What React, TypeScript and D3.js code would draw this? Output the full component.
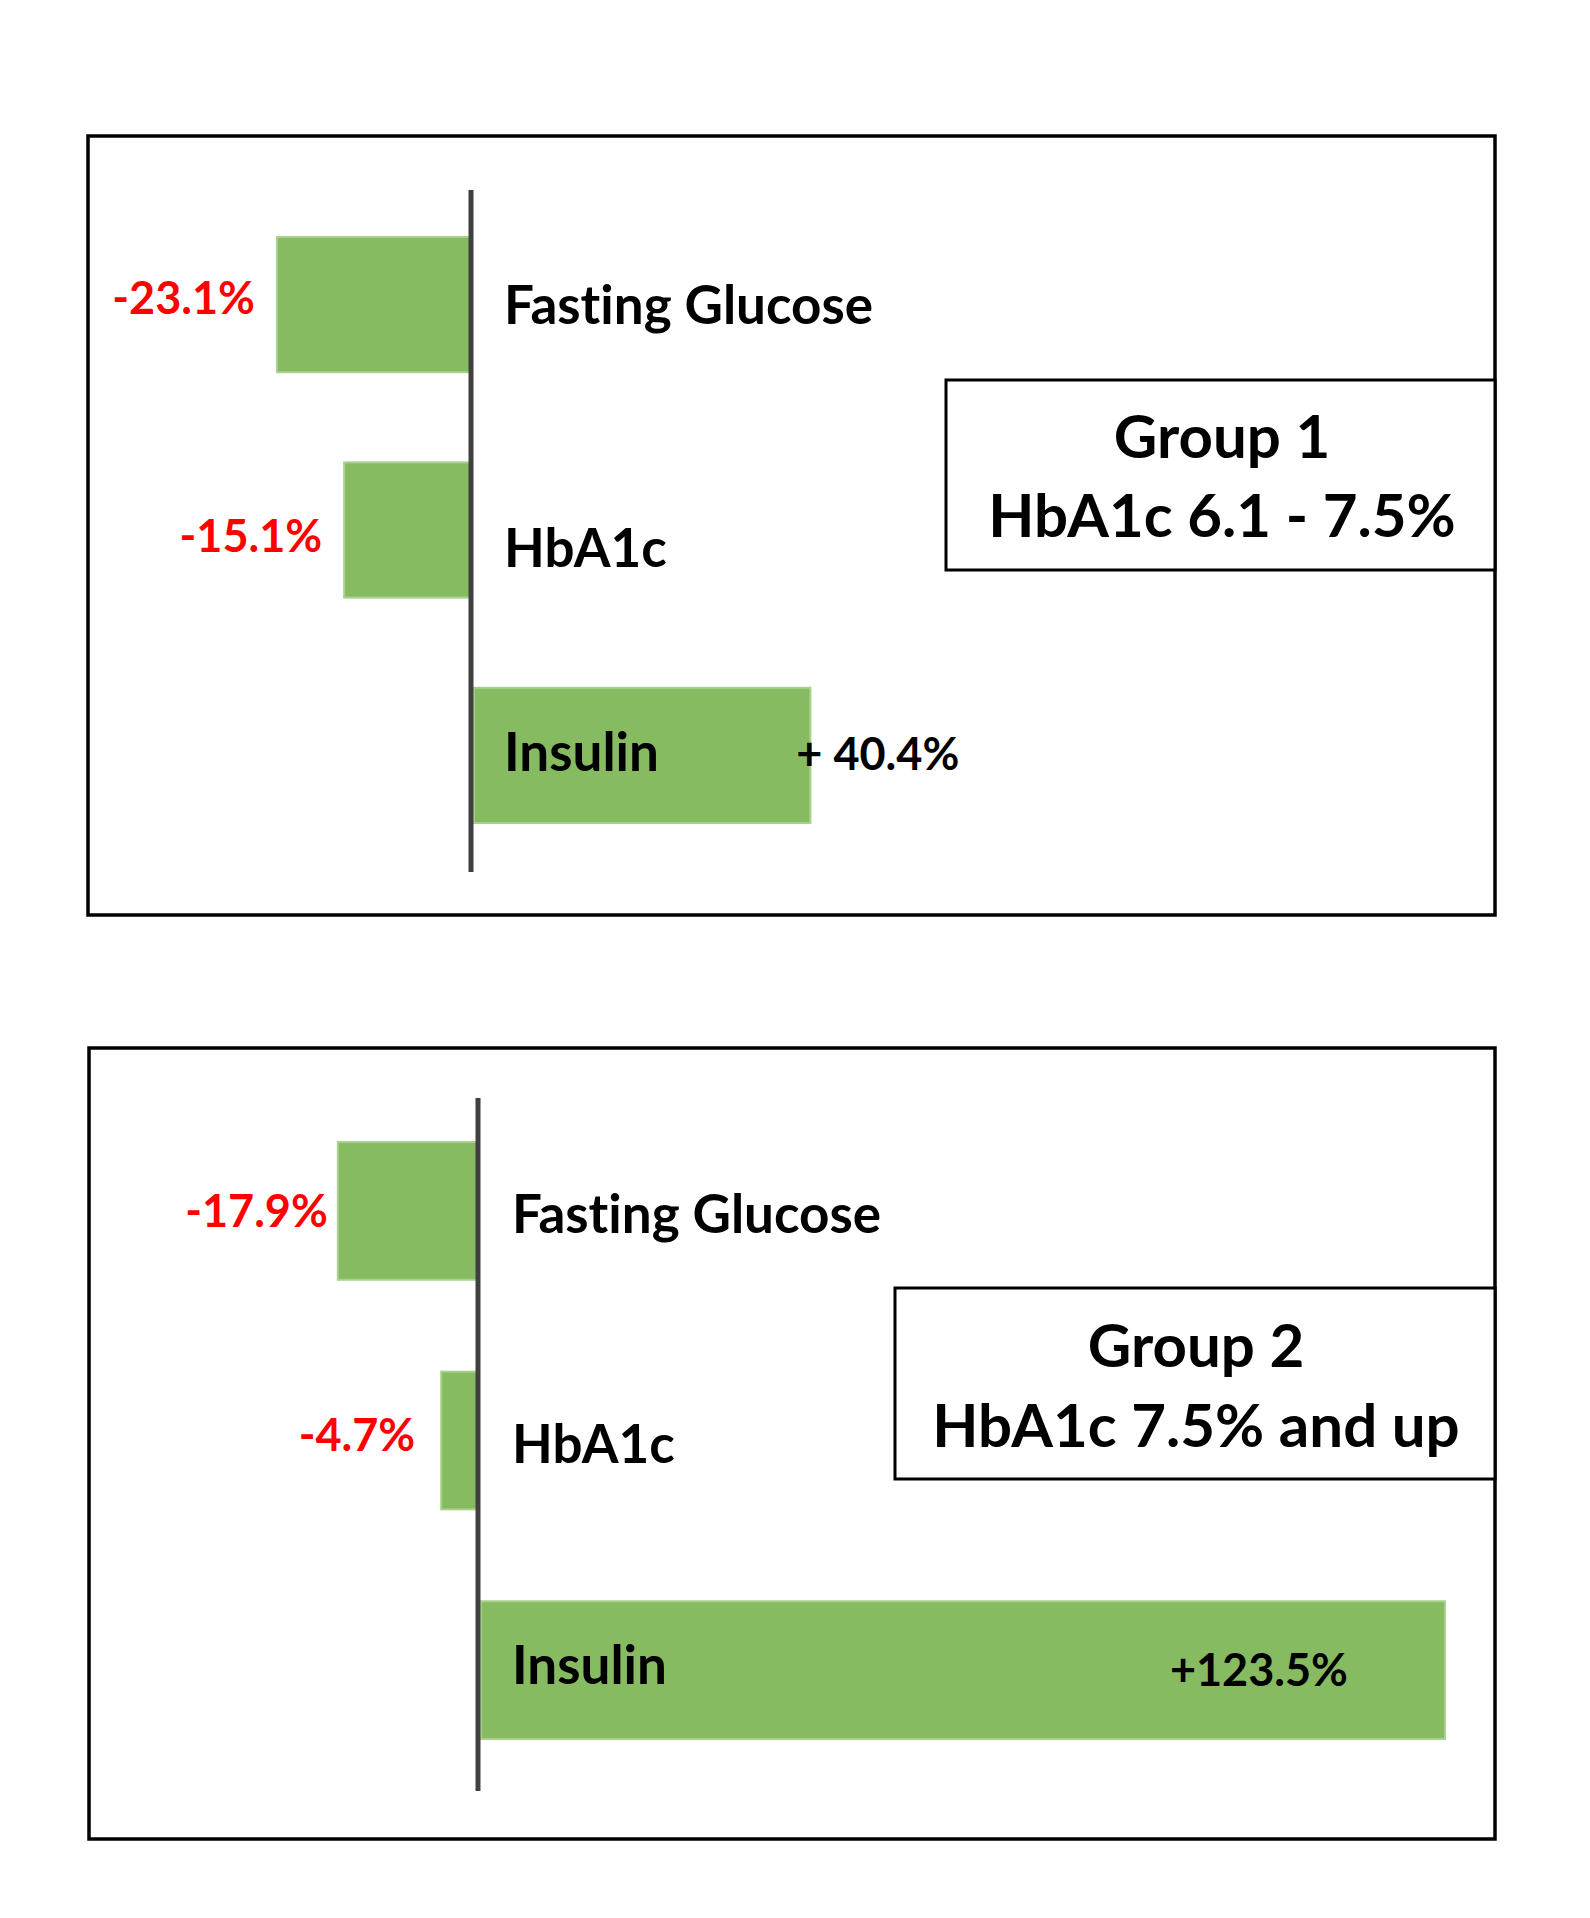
import React from "react";
import * as d3 from "d3";

// ---- data ----
const categories = ["Fasting Glucose", "HbA1c", "Insulin"];
const group1Values = [-23.1, -15.1, 40.4];
const group2Values = [-17.9, -4.7, 123.5];
const group1Labels = ["-23.1%", "-15.1%", "+ 40.4%"];
const group2Labels = ["-17.9%", "-4.7%", "+123.5%"];
const group1Title = ["Group 1", "HbA1c 6.1 - 7.5%"];
const group2Title = ["Group 2", "HbA1c 7.5% and up"];

const W = 1590;
const H = 1918;
const FONT = "Lato, 'Open Sans', sans-serif";
const BAR_FILL = "#87BB62";
const BAR_STROKE = "#A9D18E";
const TEXT_STYLE: React.CSSProperties = {
  fontVariantLigatures: "none",
  fontFeatureSettings: '"liga" 0, "clig" 0',
};

type PanelLayout = {
  box: [number, number, number, number];
  zeroX: number;
  pxPerUnit: number;
  bandTop: number;
  bandBottom: number;
  axisTop: number;
  axisBottom: number;
  catX: number;
  catDy: number[];
  valDy: number[];
  negGap: number[];
  titleBox: [number, number, number, number];
  titleCx: number;
  titleBaselines: [number, number];
  posAnchor: "start" | "end";
  posOffset: number;
};

function Panel({
  values,
  labels,
  title,
  L,
}: {
  values: number[];
  labels: string[];
  title: string[];
  L: PanelLayout;
}) {
  const x = d3
    .scaleLinear()
    .domain([0, 100])
    .range([L.zeroX, L.zeroX + 100 * L.pxPerUnit]);
  const y = d3
    .scaleBand<string>()
    .domain(categories)
    .range([L.bandTop, L.bandBottom])
    .paddingInner(0.4)
    .paddingOuter(0);
  const bw = y.bandwidth();
  const [bx, by, bw2, bh] = L.box;
  const [tx, ty, tw, th] = L.titleBox;
  return (
    <g>
      <rect x={bx} y={by} width={bw2} height={bh} fill="none" stroke="#000" strokeWidth={3.5} />
      {categories.map((c, i) => {
        const v = values[i];
        const x0 = v < 0 ? x(v) : x(0) + 3;
        const x1 = v < 0 ? x(0) : x(v);
        return (
          <rect
            key={c}
            x={x0}
            y={y(c)!}
            width={x1 - x0}
            height={bw}
            fill={BAR_FILL}
            stroke={BAR_STROKE}
            strokeWidth={2}
          />
        );
      })}
      <line
        x1={L.zeroX}
        x2={L.zeroX}
        y1={L.axisTop}
        y2={L.axisBottom}
        stroke="#404040"
        strokeWidth={5}
      />
      {categories.map((c, i) => (
        <text
          key={"c" + c}
          x={L.catX}
          y={y(c)! + bw / 2 + L.catDy[i]}
          fontFamily={FONT}
          fontWeight={700}
          fontSize={53}
          fill="#000"
          style={TEXT_STYLE}
        >
          {c}
        </text>
      ))}
      {categories.map((c, i) => {
        const v = values[i];
        const neg = v < 0;
        return (
          <text
            key={"v" + c}
            x={neg ? x(v) - L.negGap[i] : x(v) + L.posOffset}
            y={y(c)! + bw / 2 + L.valDy[i]}
            textAnchor={neg ? "end" : L.posAnchor}
            fontFamily={FONT}
            fontWeight={700}
            fontSize={45}
            fill={neg ? "#FF0000" : "#000"}
            style={TEXT_STYLE}
          >
            {labels[i]}
          </text>
        );
      })}
      <rect x={tx} y={ty} width={tw} height={th} fill="#fff" stroke="#000" strokeWidth={3} />
      {title.map((t, i) => (
        <text
          key={"t" + i}
          x={L.titleCx}
          y={L.titleBaselines[i]}
          textAnchor="middle"
          fontFamily={FONT}
          fontWeight={700}
          fontSize={60}
          fill="#000"
          style={TEXT_STYLE}
        >
          {t}
        </text>
      ))}
    </g>
  );
}

const layout1: PanelLayout = {
  box: [88, 136, 1407, 779],
  zeroX: 471,
  pxPerUnit: 8.4,
  bandTop: 237,
  bandBottom: 823,
  axisTop: 190,
  axisBottom: 872,
  catX: 504,
  catDy: [19, 37, 16],
  valDy: [9, 22, 15],
  negGap: [22, 22, 22],
  titleBox: [946, 380, 549, 190],
  titleCx: 1222,
  titleBaselines: [458, 537],
  posAnchor: "start",
  posOffset: -14,
};

const layout2: PanelLayout = {
  box: [89, 1048, 1406, 791],
  zeroX: 478,
  pxPerUnit: 7.83,
  bandTop: 1142,
  bandBottom: 1739,
  axisTop: 1098,
  axisBottom: 1791,
  catX: 512,
  catDy: [22, 22, 14],
  valDy: [16, 10, 16],
  negGap: [10, 26, 20],
  titleBox: [895, 1288, 600, 191],
  titleCx: 1196,
  titleBaselines: [1367, 1447],
  posAnchor: "end",
  posOffset: -97,
};

export default function App() {
  return (
    <svg
      width={W}
      height={H}
      viewBox={`0 0 ${W} ${H}`}
      style={{ position: "absolute", left: 0, top: 0, background: "#fff" }}
    >
      <rect x={0} y={0} width={W} height={H} fill="#fff" />
      <Panel values={group1Values} labels={group1Labels} title={group1Title} L={layout1} />
      <Panel values={group2Values} labels={group2Labels} title={group2Title} L={layout2} />
    </svg>
  );
}
